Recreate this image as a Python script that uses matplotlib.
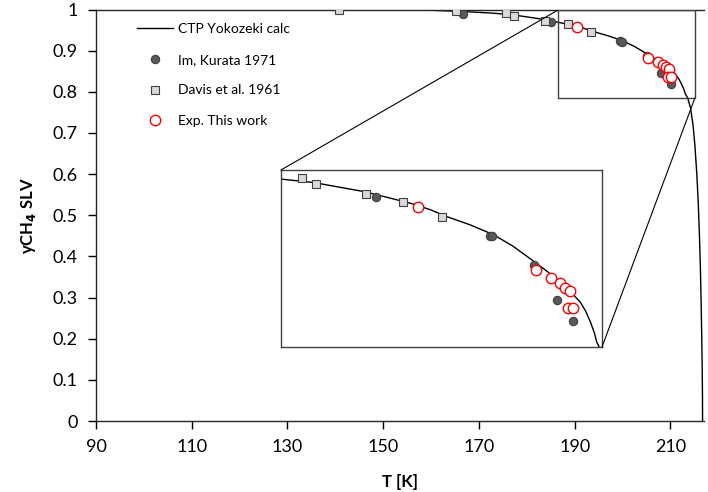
import matplotlib
matplotlib.use('Agg')
import matplotlib.pyplot as plt
from matplotlib.patches import Rectangle, ConnectionPatch
from matplotlib.ticker import FuncFormatter
import numpy as np

plt.rcParams['font.family'] = ['Lato', 'DejaVu Sans']

# CTP Yokozeki calc (model curve)
calc_T = [90, 120, 140, 150, 160, 165, 170, 173, 177.1, 180, 183.5, 186.5, 189.8, 192, 194.0,
          197, 200.0, 202.5, 205.1, 207.2, 208.9, 210.0, 211.0, 211.7, 212.3, 212.8, 213.1,
          213.6, 214.2, 214.7, 215.1, 215.5, 215.8, 216.05, 216.25, 216.4, 216.52, 216.62,
          216.68, 216.7]
calc_y = [1.0, 1.0, 0.9995, 0.999, 0.998, 0.996, 0.993, 0.991, 0.987, 0.982, 0.976, 0.969,
          0.961, 0.954, 0.946, 0.936, 0.924, 0.910, 0.892, 0.877, 0.863, 0.853, 0.843, 0.832,
          0.819, 0.806, 0.795, 0.785, 0.76, 0.72, 0.67, 0.60, 0.53, 0.45, 0.37, 0.29, 0.21,
          0.13, 0.06, 0.0]

# Im, Kurata 1971
im_T = [166.6, 185.1, 199.5, 199.8, 205.1, 208.1, 210.1]
im_y = [0.990, 0.970, 0.923, 0.922, 0.888, 0.845, 0.820]

# Davis et al. 1961
davis_T = [140.8, 165.3, 175.7, 177.4, 183.8, 188.5, 193.5]
davis_y = [0.9995, 0.996, 0.992, 0.985, 0.973, 0.964, 0.945]

# Exp. This work
exp_T = [190.4, 205.4, 207.3, 208.4, 209.1, 209.7, 209.5, 210.1]
exp_y = [0.957, 0.881, 0.872, 0.866, 0.860, 0.856, 0.836, 0.836]

xticks = [90, 110, 130, 150, 170, 190, 210]
yticks = [0, 0.1, 0.2, 0.3, 0.4, 0.5, 0.6, 0.7, 0.8, 0.9, 1]

edge = '#404040'


def draw_series(ax):
    ax.plot(calc_T, calc_y, '-', color='black', lw=1.0, label='CTP Yokozeki calc', zorder=2)
    ax.plot(im_T, im_y, 'o', ls='none', ms=6, mfc='#595959', mec=edge, mew=0.8,
            label='Im, Kurata 1971', zorder=3)
    ax.plot(davis_T, davis_y, 's', ls='none', ms=6, mfc='#d9d9d9', mec=edge, mew=0.8,
            label='Davis et al. 1961', zorder=3)
    ax.plot(exp_T, exp_y, 'o', ls='none', ms=7.5, mfc='white', mec='#ff0000', mew=1.0,
            label='Exp. This work', zorder=4)


fig = plt.figure(figsize=(7.08, 4.92), dpi=100)
ax = fig.add_axes([96 / 708, 1 - 421 / 492, 608 / 708, 411.5 / 492])
draw_series(ax)
ax.set_xlim(90, 217)
ax.set_ylim(0, 1)
ax.set_xticks(xticks)
ax.set_yticks(yticks)
ax.yaxis.set_major_formatter(FuncFormatter(lambda v, p: '%g' % round(v, 1)))
ax.tick_params(direction='out', length=6, width=1, labelsize=13, colors='black', pad=7)
ax.spines['right'].set_visible(False)
for s in ['left', 'bottom', 'top']:
    ax.spines[s].set_color('#262626')
    ax.spines[s].set_linewidth(1.0)
ax.set_xlabel('T [K]', fontsize=12, fontweight='bold', labelpad=14)
ax.set_ylabel('yCH$_\\mathbf{4}$ SLV', fontsize=12, fontweight='bold', labelpad=11)

leg = ax.legend(loc='upper left', bbox_to_anchor=((137 - 96) / 608, 1 - (23 - 9.5) / 411.5),
                frameon=False, fontsize=10, borderpad=0, handlelength=2.6,
                handletextpad=0.35, labelspacing=1.35, borderaxespad=0)

# zoom box on main axes
ax.add_patch(Rectangle((186.4, 0.785), 215.1 - 186.4, 0.998 - 0.785, fill=False,
                       ec=edge, lw=1.0, zorder=5))

# inset
axins = fig.add_axes([281 / 708, 1 - 347 / 492, 321 / 708, 177 / 492])
draw_series(axins)
axins.set_xlim(172.99, 213.78)
axins.set_ylim(0.7887, 1.002)
axins.set_xticks([])
axins.set_yticks([])
for s in axins.spines.values():
    s.set_color(edge)
    s.set_linewidth(1.0)

for (xa, ya), (xb, yb) in [((172.99, 1.002), (186.4, 0.998)),
                           ((213.78, 0.7887), (215.1, 0.785))]:
    con = ConnectionPatch(xyA=(xa, ya), coordsA=axins.transData,
                          xyB=(xb, yb), coordsB=ax.transData,
                          color='black', lw=0.8)
    fig.add_artist(con)

fig.savefig('out.png', dpi=100)
